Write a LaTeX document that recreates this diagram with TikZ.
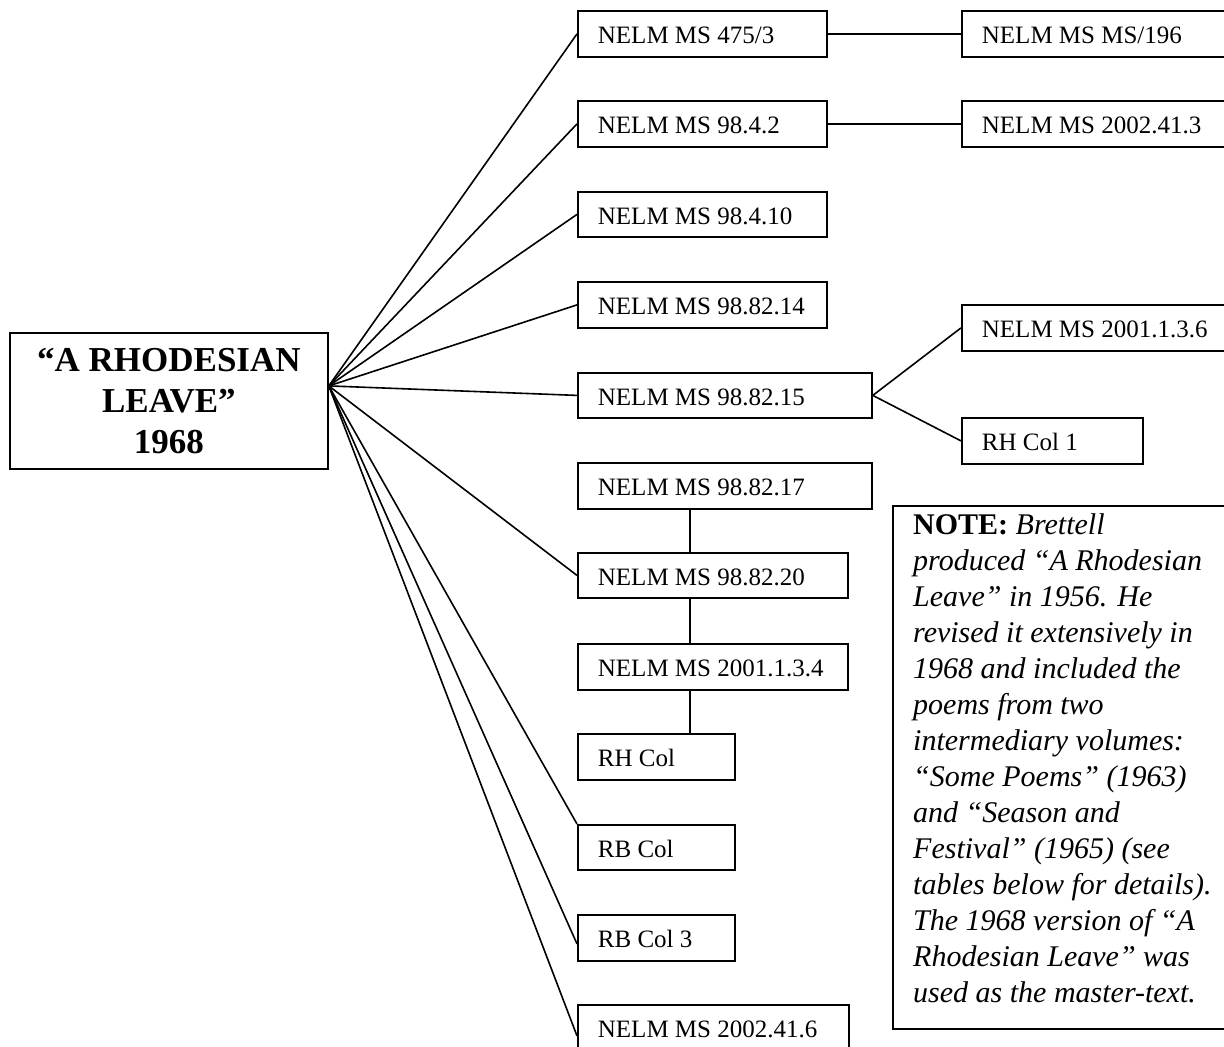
\documentclass[tikz,border=0pt]{standalone}
\usepackage{fontspec}
\setmainfont{Liberation Serif}
\newcommand{\lbx}[2]{\makebox[#1][l]{#2}}
\begin{document}
\begin{tikzpicture}[x=1pt,y=-1pt,
  bx/.style={draw, line width=1.8pt, rectangle, anchor=north west, inner xsep=20pt, inner ysep=0pt,
    text height=20pt, text depth=0pt, font=\fontsize{25}{30}\selectfont, fill=white},
  conn/.style={line width=1.6pt}]
\useasboundingbox (0,0) rectangle (1224,1047);
\fill[white] (0,0) rectangle (1224,1047);

% main box
\node[draw, line width=1.8pt, anchor=north west, minimum width=318pt, minimum height=136pt,
  inner sep=0pt, align=center, font=\fontsize{35}{41}\selectfont\bfseries] (main) at (9,332)
  {“A RHODESIAN\\LEAVE”\\1968};
\coordinate (hub) at ([yshift=15pt]main.east);

% left column
\node[bx, minimum width=249pt, minimum height=46pt] (b1) at (577,10) {\lbx{209pt}{NELM MS 475/3}};
\node[bx, minimum width=249pt, minimum height=46pt] (b2) at (577,100) {\lbx{209pt}{NELM MS 98.4.2}};
\node[bx, minimum width=249pt, minimum height=45pt] (b3) at (577,191) {\lbx{209pt}{NELM MS 98.4.10}};
\node[bx, minimum width=249pt, minimum height=46pt] (b4) at (577,281) {\lbx{209pt}{NELM MS 98.82.14}};
\node[bx, minimum width=294pt, minimum height=45pt] (b5) at (577,372) {\lbx{254pt}{NELM MS 98.82.15}};
\node[bx, minimum width=294pt, minimum height=46pt] (b6) at (577,462) {\lbx{254pt}{NELM MS 98.82.17}};
\node[bx, minimum width=270pt, minimum height=45pt] (b7) at (577,552) {\lbx{230pt}{NELM MS 98.82.20}};
\node[bx, minimum width=270pt, minimum height=46pt] (b8) at (577,643) {\lbx{230pt}{NELM MS 2001.1.3.4}};
\node[bx, minimum width=157pt, minimum height=46pt] (b9) at (577,733) {\lbx{117pt}{RH Col}};
\node[bx, minimum width=157pt, minimum height=45pt] (b10) at (577,824) {\lbx{117pt}{RB Col}};
\node[bx, minimum width=157pt, minimum height=46pt] (b11) at (577,914) {\lbx{117pt}{RB Col 3}};
\node[bx, minimum width=271pt, minimum height=46pt] (b12) at (577,1004) {\lbx{231pt}{NELM MS 2002.41.6}};

% right column
\node[bx, minimum width=290pt, minimum height=46pt] (r1) at (961,10) {\lbx{250pt}{NELM MS MS/196}};
\node[bx, minimum width=290pt, minimum height=46pt] (r2) at (961,100) {\lbx{250pt}{NELM MS 2002.41.3}};
\node[bx, minimum width=290pt, minimum height=46pt] (r3) at (961,304) {\lbx{250pt}{NELM MS 2001.1.3.6}};
\node[bx, minimum width=181pt, minimum height=46pt] (r4) at (961,417) {\lbx{141pt}{RH Col 1}};

% note
\node[draw, line width=1.8pt, anchor=north west, minimum width=360pt, minimum height=523pt, inner sep=0pt] (note) at (892,505) {};
\node[anchor=north west, inner sep=0pt, align=left, font=\fontsize{30}{36}\selectfont\itshape] (notetext) at (913,513)
  {\textup{\textbf{NOTE:}} Brettell\\
   produced “A Rhodesian\\
   Leave” in 1956. He\\
   revised it extensively in\\
   1968 and included the\\
   poems from two\\
   intermediary volumes:\\
   “Some Poems” (1963)\\
   and “Season and\\
   Festival” (1965) (see\\
   tables below for details).\\
   The 1968 version of “A\\
   Rhodesian Leave” was\\
   used as the master-text.};

% connectors from hub
\draw[conn] (hub) -- (b1.west);
\draw[conn] (hub) -- (b2.west);
\draw[conn] (hub) -- (b3.west);
\draw[conn] (hub) -- (b4.west);
\draw[conn] (hub) -- (b5.west);
\draw[conn] (hub) -- (b7.west);
\draw[conn] (hub) -- (b10.north west);
\draw[conn] (hub) -- ([yshift=-6pt]b11.west);
\draw[conn] (hub) -- ([yshift=-8pt]b12.west);

% right connectors
\draw[conn] (b1.east) -- (r1.west);
\draw[conn] (b2.east) -- (r2.west);
\draw[conn] (b5.east) -- (r3.west);
\draw[conn] (b5.east) -- (r4.west);

% vertical chain
\coordinate (vx) at (690,0);
\draw[conn] (b6.south -| vx) -- (b7.north -| vx);
\draw[conn] (b7.south -| vx) -- (b8.north -| vx);
\draw[conn] (b8.south -| vx) -- (b9.north -| vx);
\end{tikzpicture}
\end{document}
